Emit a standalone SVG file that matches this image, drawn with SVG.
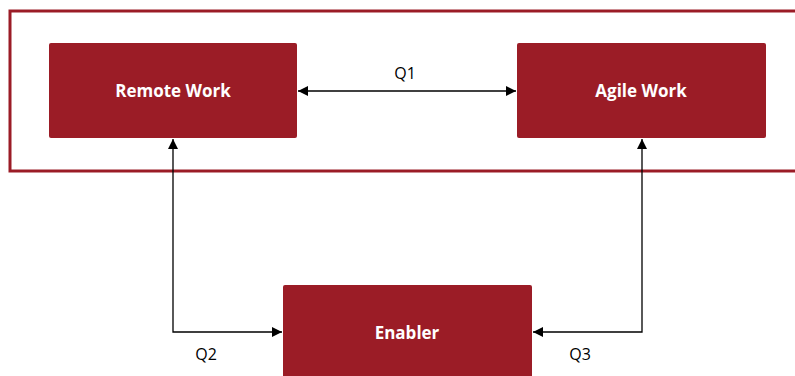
<svg xmlns="http://www.w3.org/2000/svg" width="795" height="376" viewBox="0 0 795 376">
  <defs>
    <marker id="arrow" viewBox="0 0 10 10" refX="10" refY="5" markerWidth="10" markerHeight="10" markerUnits="userSpaceOnUse" orient="auto-start-reverse">
      <path d="M0,0 L10,5 L0,10 z" fill="#000"/>
    </marker>
    <style>
      .box { fill: #9b1c26; stroke: none; }
      .frame { fill: none; stroke: #9b1c26; stroke-width: 3; }
      .name { fill: #fff; font-family: "Open Sans", "Liberation Sans", sans-serif; font-weight: bold; font-size: 17px; text-anchor: middle; }
      .q { fill: #000; font-family: "Open Sans", "Liberation Sans", sans-serif; font-size: 16px; text-anchor: middle; }
      .link { fill: none; stroke: #000; stroke-width: 1.3; }
    </style>
  </defs>

  <rect width="795" height="376" fill="#fff"/>

  <!-- framing band around the two work modes -->
  <rect class="frame" x="10" y="11" width="800" height="160"/>

  <g id="connectors">
    <line class="link" x1="298" y1="91" x2="516" y2="91" marker-start="url(#arrow)" marker-end="url(#arrow)"/>
    <polyline class="link" points="173,139 173,332 282,332" marker-start="url(#arrow)" marker-end="url(#arrow)"/>
    <polyline class="link" points="642,139 642,332 533,332" marker-start="url(#arrow)" marker-end="url(#arrow)"/>
    <text class="q" x="405" y="79">Q1</text>
    <text class="q" x="206" y="360">Q2</text>
    <text class="q" x="580" y="360">Q3</text>
  </g>

  <g id="remote-work">
    <rect class="box" x="49" y="43" width="248" height="95" rx="2"/>
    <text class="name" x="173" y="97">Remote Work</text>
  </g>

  <g id="agile-work">
    <rect class="box" x="517" y="43" width="249" height="95" rx="2"/>
    <text class="name" x="641" y="97">Agile Work</text>
  </g>

  <g id="enabler">
    <rect class="box" x="283" y="285" width="249" height="100" rx="2"/>
    <text class="name" x="407" y="339">Enabler</text>
  </g>
</svg>
